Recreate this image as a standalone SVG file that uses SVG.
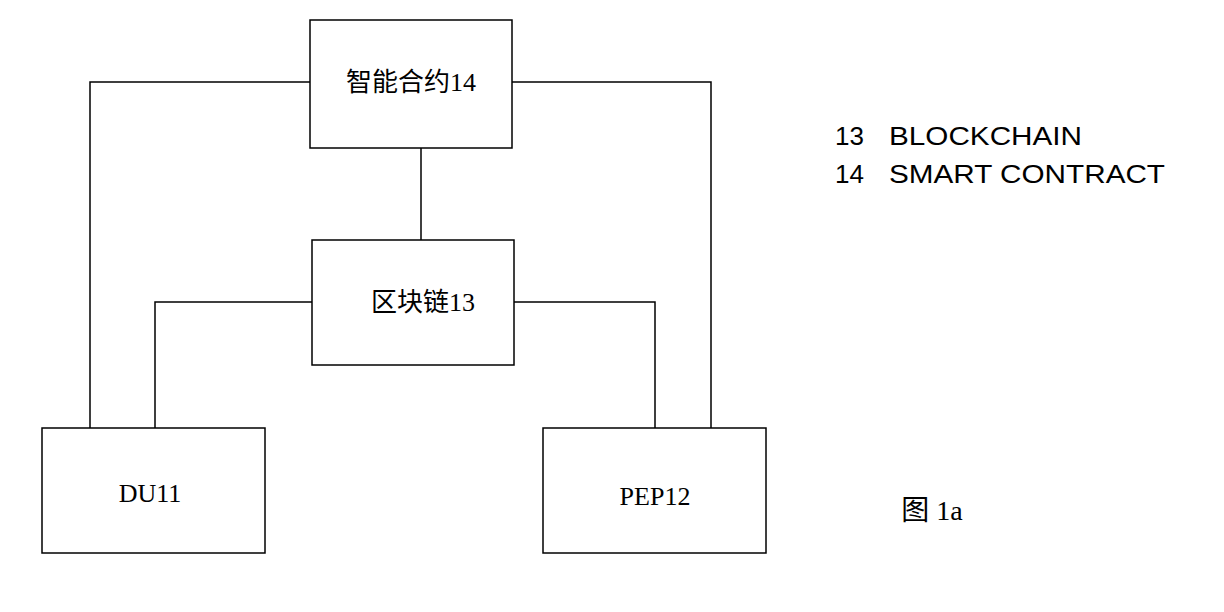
<svg xmlns="http://www.w3.org/2000/svg" width="1224" height="612" viewBox="0 0 1224 612">
<style>
rect{fill:#fff;stroke:#000;stroke-width:1.5}
.c{fill:none;stroke:#000;stroke-width:1.5}
.t{font-family:"Liberation Serif","Noto Sans CJK SC",serif;font-size:26px;text-anchor:middle}
.l{font-family:"Liberation Sans",sans-serif;font-size:26px}
</style>
<rect width="1224" height="612" style="stroke:none"/>
<g id="connectors">
<polyline class="c" points="310,82 90,82 90,428"/>
<polyline class="c" points="512,82 711,82 711,428"/>
<line class="c" x1="421" y1="148" x2="421" y2="240"/>
<polyline class="c" points="312,302 155,302 155,428"/>
<polyline class="c" points="514,302 655,302 655,428"/>
</g>
<g id="n14"><rect x="310" y="20" width="202" height="128"/><text class="t" x="411" y="91">智能合约14</text></g>
<g id="n13"><rect x="312" y="240" width="202" height="125"/><text class="t" x="423" y="311">区块链13</text></g>
<g id="n11"><rect x="42" y="428" width="223" height="125"/><text class="t" x="150" y="502">DU11</text></g>
<g id="n12"><rect x="543" y="428" width="223" height="125"/><text class="t" x="655" y="505">PEP12</text></g>
<g id="legend">
<text class="l" x="835" y="145">13</text>
<text class="l" x="889" y="145" textLength="193" lengthAdjust="spacingAndGlyphs">BLOCKCHAIN</text>
<text class="l" x="835" y="183">14</text>
<text class="l" x="889" y="183" textLength="276" lengthAdjust="spacingAndGlyphs">SMART CONTRACT</text>
<text class="t" x="932" y="520" style="font-size:28px">图 1a</text>
</g>
</svg>
